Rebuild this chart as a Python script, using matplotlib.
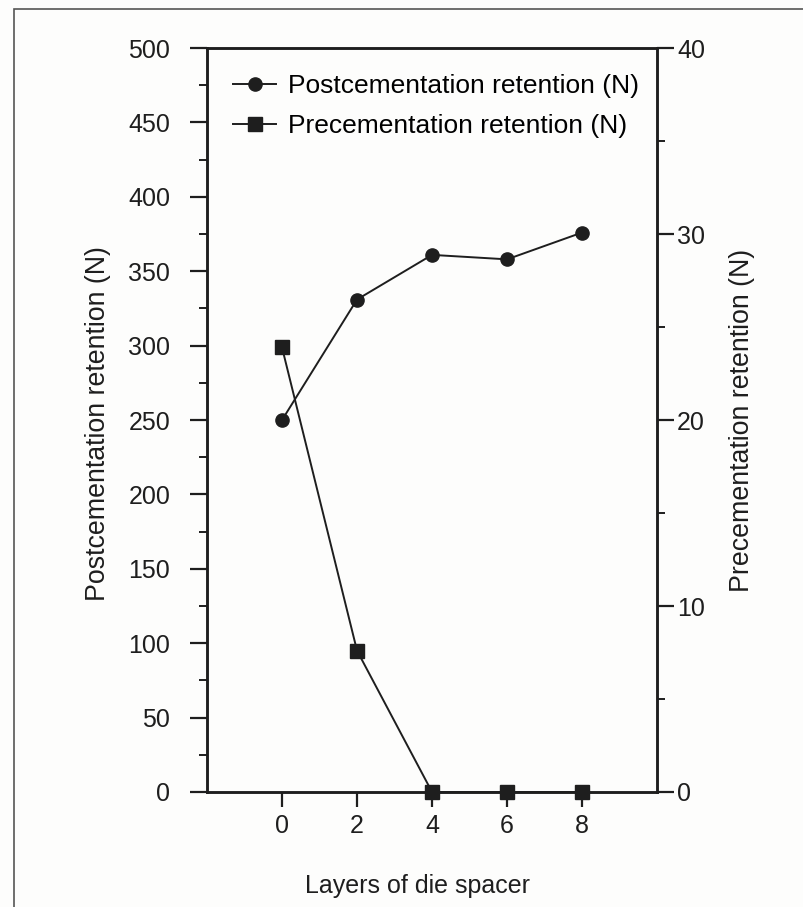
import matplotlib
matplotlib.use("Agg")
import matplotlib.pyplot as plt
from matplotlib.patches import Rectangle
from matplotlib.ticker import MultipleLocator

# data
layers = [0, 2, 4, 6, 8]
post_retention = [250, 331, 361, 358, 376]
pre_retention = [23.9, 7.6, 0, 0, 0]

post_label = "Postcementation retention (N)"
pre_label = "Precementation retention (N)"
x_label = "Layers of die spacer"

ink = "#1e1e1e"
plt.rcParams['font.family'] = ['Liberation Sans', 'DejaVu Sans']
plt.rcParams['font.size'] = 18

fig = plt.figure(figsize=(8.04, 9.07), dpi=100)
fig.patch.set_facecolor("#fdfdfc")

# outer frame of the printed figure
fig.add_artist(Rectangle((0.0174, -0.05), 1.2, 1.04, transform=fig.transFigure,
                         fill=False, edgecolor="#555555", linewidth=1.2))

ax = fig.add_axes([0.2575, 0.1268, 0.5597, 0.8202])
ax.set_facecolor("none")
ax2 = ax.twinx()

l1, = ax.plot(layers, post_retention, color=ink, linewidth=1.4, marker="o",
              markersize=9.5, clip_on=False, zorder=5)
l2, = ax2.plot(layers, pre_retention, color=ink, linewidth=1.4, marker="s",
               markersize=9.5, clip_on=False, zorder=5)

ax.set_xlim(-2, 10)
ax.set_ylim(0, 500)
ax2.set_ylim(0, 40)

ax.set_xticks(layers)
ax.yaxis.set_major_locator(MultipleLocator(50))
ax.yaxis.set_minor_locator(MultipleLocator(25))
ax2.yaxis.set_major_locator(MultipleLocator(10))
ax2.yaxis.set_minor_locator(MultipleLocator(5))

for a in (ax, ax2):
    for s in a.spines.values():
        s.set_linewidth(1.8)
        s.set_color(ink)
    a.tick_params(which="major", direction="out", length=12, width=1.6,
                  colors=ink, labelsize=18)
    a.tick_params(which="minor", direction="out", length=6, width=1.4, colors=ink)

ax.tick_params(axis="y", pad=14.5)
ax2.tick_params(axis="y", pad=2.5)
ax.tick_params(axis="x", length=11, pad=5)

ax.set_ylabel(post_label, fontsize=19.3, color=ink)
ax2.set_ylabel(pre_label, fontsize=19.3, color=ink, rotation=90)
ax.set_xlabel(x_label, fontsize=18, color=ink)
ax.yaxis.set_label_coords(-0.213, 0.495)
ax2.yaxis.set_label_coords(1.16, 0.5)
ax.xaxis.set_label_coords(0.467, -0.11)

ax.legend([l1, l2], [post_label, pre_label], loc="upper left", frameon=False,
          fontsize=19, handlelength=1.6, handletextpad=0.45, labelspacing=0.6,
          borderaxespad=0.6, bbox_to_anchor=(0.0, 1.0))

fig.savefig("out.png", dpi=100, facecolor=fig.get_facecolor())
